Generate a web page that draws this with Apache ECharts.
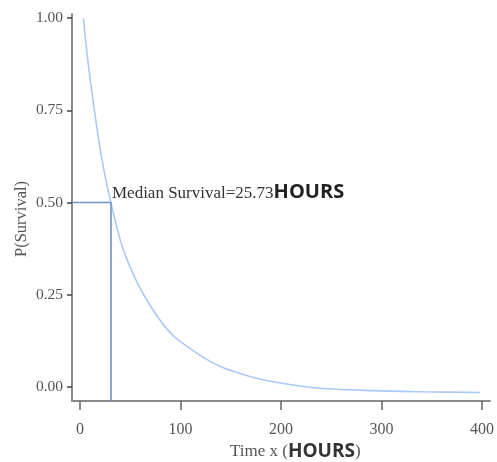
<!DOCTYPE html>
<html>
<head>
<meta charset="utf-8">
<script src="https://cdn.jsdelivr.net/npm/echarts@6/dist/echarts.min.js"></script>
<style>
html,body{margin:0;padding:0;background:#fff;}
#chart{width:497px;height:462px;}
</style>
</head>
<body>
<div id="chart"></div>
<script>
// ---- data ----
const curveX = [3.3, 7.7, 14.2, 21.9, 30.8, 41.5, 54.7, 71.3, 91.2, 121.1, 142.6, 170, 192.3, 232.2, 291.8, 341.6, 398];
const curveY = [0.999, 0.886, 0.751, 0.615, 0.499, 0.385, 0.295, 0.214, 0.143, 0.083, 0.052, 0.028, 0.014, -0.002, -0.010, -0.013, -0.015];
const medianX = 30.8;
const medianY = 0.5;
const medianLabel = 'Median Survival=25.73';
const unitLabel = 'HOURS';
const xTicks = [0, 100, 200, 300, 400];
const yTicks = [0, 0.25, 0.5, 0.75, 1];
const xRange = [-8, 408];
const yRange = [-0.038, 1.011];

const chart = echarts.init(document.getElementById('chart'), null, {renderer: 'canvas'});
const serif = '"Liberation Serif", "DejaVu Serif", serif';
const sans = '"Open Sans", "Liberation Sans", sans-serif';
const axisCol = '#8a8a8a';
const textCol = '#555';

const curve = curveX.map((x, i) => [x, curveY[i]]);
const median = [[xRange[0], medianY], [medianX, medianY], [medianX, yRange[0]]];

chart.setOption({
  animation: false,
  backgroundColor: '#fff',
  grid: {left: 72, right: 7, top: 14, bottom: 61},
  xAxis: {
    type: 'value', min: xRange[0], max: xRange[1],
    axisLine: {show: true, onZero: false, lineStyle: {color: axisCol, width: 2}},
    axisTick: {show: true, length: 9, customValues: xTicks, lineStyle: {color: '#666', width: 1.5}},
    axisLabel: {customValues: xTicks, margin: 21, fontFamily: serif, fontSize: 16, color: textCol},
    splitLine: {show: false}
  },
  yAxis: {
    type: 'value', min: yRange[0], max: yRange[1],
    axisLine: {show: true, onZero: false, lineStyle: {color: axisCol, width: 2}},
    axisTick: {show: true, length: 5, customValues: yTicks, lineStyle: {color: '#444', width: 1.5}},
    axisLabel: {customValues: yTicks, margin: 9, fontFamily: serif, fontSize: 15.5, color: textCol,
      formatter: v => v.toFixed(2)},
    splitLine: {show: false}
  },
  series: [
    {
      type: 'line', data: curve, smooth: 0.3, showSymbol: false,
      lineStyle: {color: '#a9c9fb', width: 1.6}
    },
    {
      type: 'line', data: median, showSymbol: false, symbol: 'none',
      lineStyle: {color: '#6f93c9', width: 1.6},
      markPoint: {
        symbol: 'circle', symbolSize: 0,
        data: [{coord: [medianX, medianY]}],
        label: {
          show: true, position: 'right', distance: 1, offset: [0, -9],
          formatter: '{a|' + medianLabel + '}{b|' + unitLabel + '}',
          rich: {
            a: {fontFamily: serif, fontSize: 17, color: '#333'},
            b: {fontFamily: sans, fontWeight: 'bold', fontSize: 20, color: '#222', padding: [0, 0, 3, 0]}
          }
        }
      }
    }
  ],
  graphic: [
    {
      type: 'text', x: 22, y: 219, rotation: Math.PI / 2, originX: 0, originY: 0,
      style: {text: 'P(Survival)', font: '16.5px ' + serif, fill: textCol, align: 'center', verticalAlign: 'middle'}
    },
    {
      type: 'text', x: 230, y: 452,
      style: {
        text: '{a|Time x (}{b|HOURS}{a|)}', verticalAlign: 'middle',
        rich: {
          a: {fontFamily: serif, fontSize: 17, fill: textCol},
          b: {fontFamily: sans, fontWeight: 'bold', fontSize: 19, fill: '#333'}
        }
      }
    }
  ]
});
</script>
</body>
</html>
